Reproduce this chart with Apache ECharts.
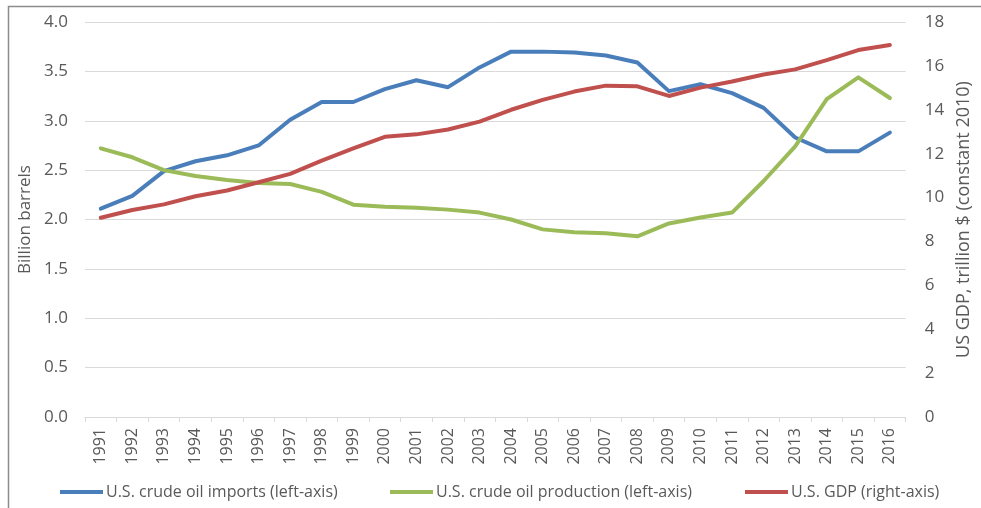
<!DOCTYPE html>
<html>
<head>
<meta charset="utf-8">
<script src="https://cdn.jsdelivr.net/npm/echarts@6/dist/echarts.min.js"></script>
<style>
  html, body { margin: 0; padding: 0; background: #fff; }
  #chart { width: 981px; height: 508px; }
</style>
</head>
<body>
<div id="chart"></div>
<script>
// Years on the category axis
const years = ['1991','1992','1993','1994','1995','1996','1997','1998','1999','2000',
  '2001','2002','2003','2004','2005','2006','2007','2008','2009','2010',
  '2011','2012','2013','2014','2015','2016'];

// U.S. crude oil imports, billion barrels (left axis)
const imports = [2.11, 2.24, 2.49, 2.59, 2.65, 2.75, 3.01, 3.19, 3.19, 3.32,
  3.41, 3.34, 3.54, 3.70, 3.70, 3.69, 3.66, 3.59, 3.30, 3.37,
  3.28, 3.13, 2.83, 2.69, 2.69, 2.88];

// U.S. crude oil production, billion barrels (left axis)
const production = [2.72, 2.63, 2.50, 2.44, 2.40, 2.37, 2.36, 2.28, 2.15, 2.13,
  2.12, 2.10, 2.07, 2.00, 1.90, 1.87, 1.86, 1.83, 1.96, 2.02,
  2.07, 2.39, 2.74, 3.22, 3.44, 3.23];

// U.S. GDP, trillion $ constant 2010 (right axis)
const gdp = [9.08, 9.43, 9.69, 10.06, 10.32, 10.70, 11.08, 11.68, 12.24, 12.77,
  12.88, 13.10, 13.46, 14.00, 14.45, 14.83, 15.10, 15.07, 14.63, 15.01,
  15.29, 15.61, 15.84, 16.26, 16.72, 16.95];

const seriesNames = [
  'U.S. crude oil imports (left-axis)',
  'U.S. crude oil production (left-axis)',
  'U.S. GDP (right-axis)'
];
const seriesColors = ['#4a7ebb', '#9bbb59', '#c0504d'];
const legendLefts = [55, 385, 740];

const textColor = '#595959';
const fontFamily = '"Open Sans", "Noto Sans", sans-serif';

const chart = echarts.init(document.getElementById('chart'), null, { renderer: 'canvas' });

function lineSeries(i, data, axisIndex) {
  return {
    name: seriesNames[i],
    type: 'line',
    yAxisIndex: axisIndex,
    data: data,
    symbol: 'none',
    smooth: false,
    lineStyle: { color: seriesColors[i], width: 4, cap: 'round', join: 'round' },
    itemStyle: { color: seriesColors[i] }
  };
}

// one legend block per series so each entry sits at its own spot
const legends = seriesNames.map((name, i) => ({
  left: legendLefts[i],
  top: 479,
  itemWidth: 43,
  itemHeight: 4,
  icon: 'rect',
  textStyle: { color: textColor, fontSize: 16, fontFamily: fontFamily, padding: [0, 0, 0, -2] },
  data: [name]
}));

chart.setOption({
  animation: false,
  backgroundColor: '#fff',
  textStyle: { fontFamily: fontFamily },
  graphic: [
    {
      type: 'polyline',
      shape: { points: [[8.5, 520], [8.5, 6.5], [990, 6.5]] },
      style: { stroke: '#8c8c8c', lineWidth: 1.5, fill: null },
      silent: true
    }
  ],
  grid: { left: 85, right: 67, top: 22, bottom: 91, containLabel: false },
  legend: legends,
  xAxis: {
    type: 'category',
    data: years,
    boundaryGap: true,
    axisLine: { lineStyle: { color: '#d9d9d9', width: 1 } },
    axisTick: { show: true, length: 5, lineStyle: { color: '#d9d9d9' } },
    axisLabel: { rotate: 90, color: textColor, fontSize: 16, margin: 11, interval: 0 }
  },
  yAxis: [
    {
      type: 'value',
      min: 0, max: 4, interval: 0.5,
      name: 'Billion barrels',
      nameLocation: 'middle',
      nameGap: 49,
      nameRotate: 90,
      nameTextStyle: { color: textColor, fontSize: 17 },
      axisLine: { show: false },
      axisTick: { show: false },
      axisLabel: { color: textColor, fontSize: 17, margin: 17, formatter: v => v.toFixed(1) },
      splitLine: { lineStyle: { color: '#d9d9d9', width: 1 } }
    },
    {
      type: 'value',
      min: 0, max: 18, interval: 2,
      name: 'US GDP, trillion $ (constant 2010)',
      nameLocation: 'middle',
      nameGap: 48,
      nameRotate: 90,
      nameTextStyle: { color: textColor, fontSize: 18 },
      axisLine: { show: false },
      axisTick: { show: false },
      axisLabel: { color: textColor, fontSize: 17, margin: 19 },
      splitLine: { show: false }
    }
  ],
  series: [
    lineSeries(0, imports, 0),
    lineSeries(1, production, 0),
    lineSeries(2, gdp, 1)
  ]
});
</script>
</body>
</html>
